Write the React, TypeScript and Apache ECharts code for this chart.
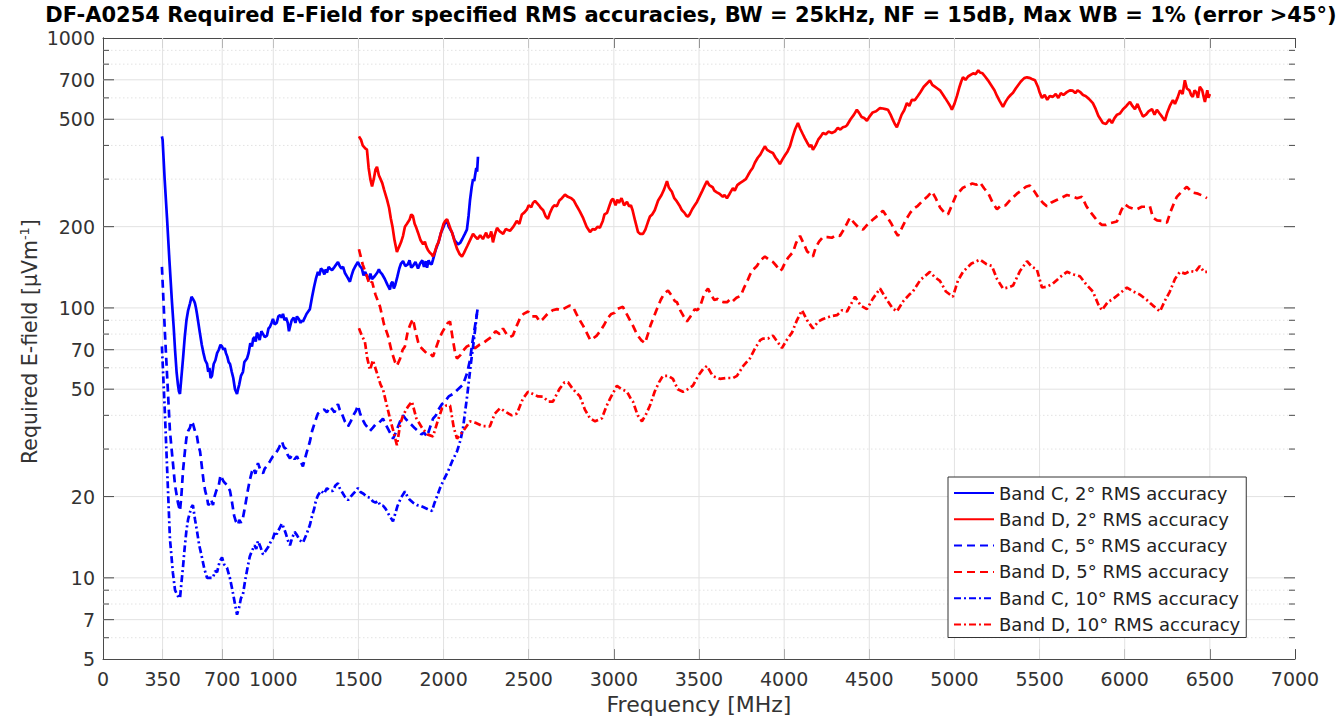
import React, { useEffect, useRef } from 'react';
import * as echarts from 'echarts';

const titleText = 'DF-A0254 Required E-Field for specified RMS accuracies, BW = 25kHz, NF = 15dB, Max WB = 1% (error >45°)';
const xAxisTitle = 'Frequency [MHz]';
const xTicks = [0, 350, 700, 1000, 1500, 2000, 2500, 3000, 3500, 4000, 4500, 5000, 5500, 6000, 6500, 7000];
const yMajorTicks = [5, 7, 10, 20, 50, 70, 100, 200, 500, 700, 1000];
const yMinorTicks = [6, 8, 9, 30, 40, 60, 80, 90, 300, 400, 600, 800, 900];
const seriesNames = [
  'Band C, 2° RMS accuracy',
  'Band D, 2° RMS accuracy',
  'Band C, 5° RMS accuracy',
  'Band D, 5° RMS accuracy',
  'Band C, 10° RMS accuracy',
  'Band D, 10° RMS accuracy',
];

const bandC2 = [
  [346, 432], [350, 420], [362, 300], [376, 215], [390, 150], [405, 105], [415, 85], [423, 70], [432, 58], [440, 52],
  [446, 49], [452, 48], [460, 55], [470, 65], [480, 78], [490, 90], [500, 98], [511, 104], [520, 110], [528, 108],
  [535, 106], [540, 104], [546, 100], [552, 95], [560, 88], [570, 80], [580, 73], [590, 68], [600, 64], [611, 62],
  [618, 58], [625, 60], [632, 55], [640, 56], [650, 62], [660, 64], [670, 68], [680, 70], [690, 73], [699, 72],
  [707, 70], [715, 71], [722, 68], [730, 66], [738, 63], [746, 62], [756, 58], [765, 55], [775, 50], [787, 48],
  [793, 50], [800, 52], [810, 56], [822, 58], [830, 63], [838, 64], [846, 65], [855, 68], [865, 74], [875, 72],
  [882, 77], [890, 78], [897, 75], [904, 81], [912, 79], [920, 76], [930, 82], [940, 80], [950, 78], [963, 79],
  [972, 84], [980, 85], [990, 88], [998, 91], [1008, 87], [1020, 88], [1030, 93], [1040, 94], [1050, 92], [1057, 95],
  [1066, 90], [1075, 92], [1085, 88], [1092, 82], [1098, 85], [1108, 90], [1120, 92], [1130, 88], [1139, 93], [1150, 91],
  [1160, 88], [1168, 90], [1174, 89], [1185, 92], [1195, 95], [1205, 97], [1215, 99], [1228, 110], [1240, 120], [1250, 128],
  [1262, 136], [1270, 132], [1280, 140], [1290, 138], [1300, 133], [1308, 139], [1315, 135], [1325, 142], [1333, 140], [1345, 138],
  [1360, 142], [1370, 145], [1380, 148], [1390, 143], [1400, 140], [1410, 142], [1420, 135], [1435, 130], [1450, 125], [1460, 132],
  [1470, 138], [1480, 142], [1497, 148], [1508, 143], [1520, 140], [1530, 132], [1540, 136], [1550, 131], [1560, 127], [1570, 134],
  [1580, 128], [1595, 131], [1610, 135], [1620, 139], [1627, 136], [1640, 133], [1655, 128], [1670, 122], [1685, 117], [1692, 123],
  [1700, 125], [1708, 118], [1715, 121], [1728, 130], [1740, 140], [1750, 146], [1762, 149], [1775, 143], [1790, 145], [1800, 150],
  [1810, 141], [1820, 143], [1835, 148], [1850, 140], [1862, 146], [1875, 150], [1885, 142], [1895, 149], [1903, 141], [1912, 150],
  [1920, 146], [1930, 145], [1938, 151], [1955, 165], [1970, 175], [1985, 190], [2000, 200], [2010, 208], [2020, 212], [2030, 200],
  [2040, 195], [2050, 190], [2065, 178], [2085, 172], [2097, 174], [2110, 180], [2125, 188], [2137, 195], [2147, 220], [2155, 250],
  [2165, 280], [2173, 300], [2180, 295], [2185, 310], [2192, 330], [2197, 320], [2202, 363],
];

const bandD2 = [
  [1503, 432], [1515, 420], [1525, 400], [1540, 390], [1550, 386], [1560, 330], [1570, 300], [1580, 282], [1590, 300], [1600, 325],
  [1609, 333], [1620, 310], [1630, 300], [1640, 290], [1650, 275], [1660, 262], [1668, 252], [1680, 235], [1690, 215], [1700, 200],
  [1712, 178], [1726, 161], [1738, 168], [1750, 175], [1762, 185], [1773, 200], [1785, 205], [1800, 212], [1810, 222], [1820, 219],
  [1830, 205], [1840, 198], [1850, 190], [1865, 178], [1880, 172], [1890, 176], [1900, 168], [1908, 164], [1920, 160], [1930, 158],
  [1938, 155], [1950, 162], [1960, 170], [1970, 175], [1985, 190], [2000, 205], [2010, 210], [2020, 213], [2030, 205], [2040, 197],
  [2050, 190], [2065, 176], [2080, 165], [2095, 158], [2108, 155], [2120, 160], [2130, 165], [2140, 170], [2155, 178], [2173, 188],
  [2185, 184], [2200, 180], [2215, 186], [2231, 180], [2250, 190], [2260, 182], [2272, 185], [2280, 192], [2290, 175], [2300, 186],
  [2314, 198], [2330, 192], [2350, 188], [2365, 196], [2390, 193], [2410, 200], [2430, 210], [2445, 205], [2460, 222], [2475, 226],
  [2490, 232], [2500, 240], [2515, 236], [2525, 245], [2537, 249], [2550, 244], [2560, 240], [2570, 235], [2585, 230], [2600, 218],
  [2613, 214], [2625, 225], [2640, 236], [2650, 240], [2665, 238], [2680, 250], [2695, 255], [2713, 263], [2730, 258], [2750, 255],
  [2765, 250], [2783, 238], [2800, 228], [2820, 215], [2840, 200], [2860, 191], [2875, 196], [2890, 195], [2905, 200], [2918, 198],
  [2935, 210], [2945, 222], [2960, 225], [2975, 240], [2985, 250], [2995, 254], [3010, 240], [3020, 252], [3030, 245], [3045, 255],
  [3060, 240], [3077, 247], [3090, 238], [3100, 240], [3110, 230], [3125, 210], [3142, 191], [3155, 188], [3171, 188], [3185, 195],
  [3200, 208], [3212, 218], [3225, 222], [3240, 230], [3260, 250], [3280, 262], [3295, 275], [3312, 295], [3322, 280], [3330, 275],
  [3340, 270], [3355, 255], [3370, 248], [3388, 238], [3400, 230], [3415, 225], [3425, 220], [3435, 218], [3445, 222], [3460, 232],
  [3475, 240], [3488, 247], [3505, 260], [3520, 272], [3535, 285], [3547, 295], [3560, 285], [3580, 280], [3590, 272], [3605, 268],
  [3620, 265], [3640, 258], [3650, 262], [3664, 255], [3680, 265], [3699, 278], [3710, 272], [3725, 285], [3740, 290], [3758, 295],
  [3775, 300], [3790, 312], [3800, 320], [3815, 330], [3828, 345], [3845, 360], [3860, 370], [3875, 385], [3887, 397], [3900, 385],
  [3915, 380], [3934, 375], [3950, 360], [3962, 352], [3975, 341], [3990, 355], [4005, 368], [4020, 380], [4034, 397], [4050, 430],
  [4065, 460], [4081, 484], [4095, 460], [4110, 440], [4122, 425], [4134, 411], [4150, 395], [4160, 402], [4169, 385], [4185, 400],
  [4200, 420], [4215, 432], [4228, 445], [4245, 440], [4260, 450], [4280, 445], [4298, 450], [4315, 465], [4330, 458], [4345, 467],
  [4360, 470], [4369, 475], [4390, 500], [4410, 520], [4427, 542], [4440, 528], [4455, 510], [4470, 505], [4486, 494], [4500, 510],
  [4520, 530], [4540, 535], [4563, 550], [4580, 548], [4595, 545], [4610, 542], [4625, 520], [4640, 495], [4650, 480], [4662, 467],
  [4675, 490], [4690, 520], [4705, 540], [4721, 574], [4735, 560], [4750, 590], [4768, 589], [4785, 610], [4800, 630], [4820, 660],
  [4840, 680], [4856, 697], [4870, 670], [4885, 660], [4900, 650], [4915, 640], [4930, 620], [4945, 600], [4960, 580], [4975, 560],
  [4985, 542], [5000, 570], [5015, 610], [5030, 660], [5040, 690], [5050, 715], [5065, 700], [5080, 720], [5095, 730], [5110, 740],
  [5125, 735], [5140, 760], [5150, 745], [5165, 740], [5180, 720], [5197, 697], [5215, 670], [5235, 640], [5250, 610], [5265, 585],
  [5285, 556], [5300, 580], [5315, 600], [5330, 615], [5344, 627], [5360, 650], [5375, 670], [5390, 690], [5410, 710], [5426, 715],
  [5440, 712], [5455, 705], [5473, 697], [5490, 660], [5500, 630], [5514, 600], [5530, 615], [5545, 590], [5560, 610], [5578, 605],
  [5595, 620], [5610, 600], [5625, 625], [5640, 615], [5660, 630], [5678, 640], [5695, 638], [5710, 625], [5723, 640], [5737, 632],
  [5755, 615], [5770, 610], [5790, 595], [5813, 574], [5830, 545], [5845, 515], [5858, 500], [5872, 484], [5890, 480], [5910, 500],
  [5925, 484], [5940, 505], [5955, 520], [5972, 525], [5990, 545], [6010, 560], [6020, 570], [6031, 580], [6045, 560], [6060, 545],
  [6075, 570], [6090, 540], [6107, 512], [6125, 520], [6140, 535], [6160, 545], [6175, 520], [6189, 542], [6205, 525], [6220, 510],
  [6236, 494], [6250, 530], [6265, 560], [6283, 589], [6295, 570], [6310, 600], [6325, 640], [6340, 620], [6353, 697], [6365, 650],
  [6380, 640], [6390, 615], [6400, 605], [6410, 640], [6420, 630], [6430, 600], [6441, 660], [6455, 640], [6465, 600], [6471, 580],
  [6485, 640], [6492, 600], [6500, 620],
];

const bandC5 = [
  [346, 142], [364, 80], [393, 35], [423, 22], [440, 19], [452, 17.7], [460, 20], [470, 25], [480, 29], [490, 33],
  [500, 35], [511, 36], [520, 38], [528, 37.3], [540, 35], [552, 33.4], [560, 31], [570, 29.4], [580, 26], [590, 23],
  [600, 21], [611, 19.8], [618, 18.6], [625, 18.8], [635, 19.5], [646, 18.6], [655, 20], [665, 21], [680, 22], [690, 24],
  [699, 23.4], [707, 22.8], [715, 22.5], [730, 22], [746, 21], [758, 19], [770, 17], [780, 16.2], [793, 15.7], [800, 16.4],
  [810, 16], [822, 16.7], [835, 18.5], [850, 21], [862, 23], [875, 24.8], [885, 25.5], [895, 24.3], [910, 26.6], [925, 25],
  [940, 24.4], [950, 25.4], [963, 26], [980, 27], [998, 28.2], [1015, 29], [1030, 30], [1040, 31], [1051, 32], [1062, 30.5],
  [1075, 30], [1085, 28.5], [1098, 27.7], [1110, 28.5], [1125, 27.5], [1139, 28.2], [1150, 27.2], [1160, 27], [1174, 25.9], [1195, 29],
  [1215, 32], [1228, 35], [1240, 37], [1252, 39], [1262, 40.6], [1280, 41.5], [1300, 42], [1315, 41], [1333, 43], [1348, 42],
  [1360, 41], [1370, 43], [1380, 44], [1390, 42], [1400, 41], [1420, 38], [1439, 36.4], [1455, 38], [1470, 40], [1485, 41.5],
  [1497, 43.5], [1508, 41], [1520, 39], [1540, 37], [1555, 36], [1568, 35], [1585, 36], [1600, 37], [1620, 37.5], [1644, 38.9],
  [1660, 37], [1680, 35], [1692, 34], [1703, 32.8], [1715, 34], [1730, 36], [1745, 38], [1762, 40], [1775, 39], [1790, 38],
  [1810, 37], [1832, 35.8], [1850, 35], [1870, 34], [1885, 34.5], [1903, 33.4], [1920, 36], [1938, 38.9], [1955, 40], [1970, 42],
  [1990, 44], [2008, 45], [2030, 47], [2055, 48], [2085, 50], [2114, 52], [2137, 57], [2155, 64], [2170, 75], [2185, 86],
  [2202, 101],
];

const bandD5 = [
  [1503, 165], [1525, 145], [1550, 131], [1565, 122], [1580, 125], [1600, 112], [1627, 101], [1650, 87], [1673, 79], [1695, 69],
  [1715, 63], [1726, 61], [1745, 65], [1760, 70], [1773, 72], [1790, 82], [1805, 87], [1820, 91], [1835, 82], [1850, 75],
  [1861, 72], [1880, 70], [1900, 68], [1920, 68], [1938, 66], [1955, 71], [1975, 77], [1991, 81], [2010, 85], [2025, 88],
  [2038, 89], [2055, 76], [2070, 67], [2079, 65], [2100, 67], [2120, 70], [2137, 72], [2160, 73], [2185, 71], [2210, 73],
  [2231, 74], [2255, 76], [2280, 78], [2305, 82], [2330, 80], [2349, 84], [2370, 80], [2390, 78], [2407, 79], [2430, 86],
  [2450, 92], [2470, 95], [2496, 97], [2520, 93], [2545, 93], [2565, 89], [2584, 91], [2610, 95], [2640, 98], [2666, 99],
  [2690, 98], [2715, 100], [2740, 102], [2760, 101], [2780, 95], [2800, 90], [2819, 86], [2840, 81], [2862, 76], [2877, 77],
  [2900, 79], [2925, 83], [2945, 87], [2960, 91], [2985, 95], [3005, 96], [3018, 99], [3035, 100], [3053, 101], [3075, 95],
  [3095, 90], [3112, 86], [3135, 80], [3160, 76], [3183, 74], [3200, 80], [3215, 86], [3230, 91], [3250, 98], [3275, 107],
  [3295, 113], [3318, 116], [3340, 111], [3358, 106], [3371, 105], [3390, 98], [3410, 93], [3429, 89], [3450, 93], [3475, 99],
  [3490, 98], [3506, 101], [3525, 110], [3540, 115], [3553, 118], [3570, 112], [3590, 107], [3610, 108], [3623, 106], [3645, 105],
  [3665, 105], [3685, 108], [3699, 106], [3720, 109], [3745, 111], [3765, 119], [3782, 125], [3800, 133], [3820, 139], [3840, 143],
  [3860, 150], [3887, 155], [3910, 151], [3934, 148], [3955, 143], [3975, 137], [3987, 139], [4005, 147], [4025, 154], [4052, 161],
  [4070, 174], [4093, 185], [4115, 173], [4135, 162], [4155, 158], [4169, 155], [4185, 167], [4205, 176], [4228, 183], [4255, 183],
  [4280, 182], [4305, 186], [4328, 185], [4350, 195], [4370, 206], [4386, 216], [4410, 207], [4435, 199], [4463, 195], [4490, 204],
  [4520, 212], [4550, 220], [4580, 229], [4605, 217], [4630, 205], [4650, 193], [4668, 185], [4690, 197], [4715, 212], [4740, 225],
  [4756, 232], [4785, 239], [4815, 250], [4845, 260], [4868, 270], [4890, 255], [4915, 236], [4940, 226], [4962, 222], [4985, 240],
  [5010, 262], [5030, 270], [5050, 279], [5075, 283], [5105, 289], [5130, 286], [5150, 292], [5175, 277], [5200, 265], [5225, 245],
  [5250, 232], [5275, 240], [5300, 240], [5330, 252], [5367, 265], [5395, 273], [5420, 281], [5443, 284], [5470, 270], [5495, 255],
  [5520, 245], [5543, 238], [5570, 246], [5600, 251], [5630, 256], [5661, 262], [5690, 259], [5720, 255], [5749, 258], [5775, 238],
  [5800, 226], [5820, 218], [5845, 208], [5866, 203], [5890, 203], [5915, 206], [5954, 209], [5980, 230], [6001, 242], [6025, 236],
  [6050, 233], [6072, 232], [6100, 237], [6130, 237], [6148, 238], [6166, 216], [6190, 211], [6220, 210], [6248, 207], [6270, 228],
  [6290, 245], [6306, 258], [6330, 268], [6365, 281], [6395, 268], [6430, 265], [6460, 260], [6483, 255],
];

const bandC10 = [
  [346, 72], [364, 40], [393, 14], [410, 10.5], [423, 9], [438, 8.6], [452, 8.4], [460, 9.5], [470, 11], [480, 13],
  [490, 15], [500, 16.5], [511, 17.5], [520, 18.3], [528, 18.6], [540, 16.5], [552, 14.9], [565, 13.2], [580, 12], [595, 10.8],
  [611, 10], [628, 10], [646, 10], [658, 10.6], [670, 10.5], [685, 11.5], [699, 11.9], [712, 11.2], [728, 10.9], [745, 10],
  [760, 9], [775, 8], [787, 7.3], [800, 7.8], [810, 8.4], [822, 8.7], [835, 9.8], [850, 11], [862, 12], [875, 12.6],
  [890, 13.2], [900, 12.8], [910, 13.7], [925, 13], [940, 12.2], [955, 12.6], [970, 13], [985, 13.6], [998, 14], [1010, 14.8],
  [1020, 14.5], [1035, 15.2], [1051, 15.9], [1062, 15.3], [1075, 14.5], [1085, 13.8], [1098, 13.2], [1110, 14], [1125, 14.8], [1139, 14.4],
  [1155, 13.8], [1174, 13.5], [1195, 14.5], [1215, 15.7], [1228, 17], [1240, 18], [1250, 19.3], [1262, 20.2], [1280, 21], [1298, 20.5],
  [1315, 21.5], [1332, 21], [1350, 21], [1365, 22], [1380, 22.4], [1390, 21.5], [1400, 21], [1420, 20], [1439, 19.4], [1455, 20],
  [1470, 20.5], [1485, 21], [1497, 21.5], [1512, 20.8], [1530, 20.5], [1548, 20], [1568, 19.8], [1585, 19.2], [1600, 19], [1615, 19.3],
  [1627, 18.6], [1645, 18.5], [1660, 18], [1682, 17], [1703, 16.2], [1715, 17.2], [1730, 18.5], [1750, 19.8], [1773, 20.9], [1788, 20],
  [1800, 19.5], [1820, 19], [1844, 18.6], [1862, 18.5], [1880, 18.3], [1905, 18], [1932, 17.7], [1945, 18.8], [1961, 20], [1979, 21.5],
  [2000, 23], [2026, 24.8], [2050, 27], [2079, 29.4], [2100, 32.5], [2114, 35.8], [2126, 41], [2140, 48], [2160, 62], [2178, 76],
  [2196, 95],
];

const bandD10 = [
  [1503, 84], [1520, 79], [1538, 75], [1552, 65], [1568, 59], [1585, 64], [1610, 57], [1630, 52], [1644, 50], [1665, 44],
  [1685, 39], [1705, 35], [1726, 31], [1745, 37], [1762, 40], [1790, 43], [1814, 45], [1840, 39], [1873, 36], [1905, 34],
  [1938, 33.4], [1965, 38], [1991, 42.5], [2015, 43.5], [2038, 43.5], [2060, 36], [2079, 32.8], [2115, 35], [2155, 38], [2190, 37.5],
  [2230, 36.5], [2272, 36.4], [2300, 40.5], [2331, 42.5], [2370, 41], [2400, 40], [2431, 40.6], [2465, 46], [2496, 48.9], [2525, 48],
  [2555, 47], [2584, 46.9], [2615, 45], [2642, 45], [2680, 50], [2710, 53], [2731, 53], [2760, 50], [2801, 47], [2830, 42],
  [2860, 39], [2890, 38], [2930, 39], [2955, 43], [2977, 46], [3000, 49], [3018, 51.5], [3045, 50], [3077, 49], [3100, 46],
  [3112, 45], [3140, 40], [3165, 38], [3190, 40.5], [3212, 43.5], [3240, 49], [3265, 53], [3288, 56], [3320, 56], [3347, 54.6],
  [3375, 50], [3406, 48.9], [3435, 50], [3464, 51.5], [3495, 56], [3525, 59.5], [3547, 61], [3580, 56], [3623, 54.6], [3660, 55],
  [3700, 55], [3723, 56], [3760, 61], [3799, 65], [3830, 71], [3860, 76], [3875, 77], [3905, 77], [3934, 79], [3960, 75],
  [3987, 71], [4015, 76], [4046, 81], [4075, 90], [4105, 98], [4135, 90], [4169, 84], [4200, 89], [4228, 91], [4270, 93],
  [4310, 94], [4340, 98], [4369, 97], [4395, 104], [4416, 110], [4450, 102], [4486, 99], [4520, 108], [4563, 118], [4600, 108],
  [4635, 100], [4662, 97], [4700, 106], [4735, 112], [4756, 115], [4800, 127], [4856, 136], [4885, 130], [4915, 126], [4950, 115],
  [4991, 110], [5020, 126], [5050, 136], [5100, 146], [5150, 151], [5190, 145], [5220, 143], [5250, 128], [5285, 118], [5315, 119],
  [5344, 121], [5385, 137], [5426, 149], [5455, 142], [5484, 139], [5514, 119], [5545, 120], [5578, 123], [5620, 130], [5661, 136],
  [5700, 133], [5737, 131], [5775, 122], [5813, 115], [5845, 103], [5866, 98], [5900, 105], [5931, 108], [5970, 113], [6013, 119],
  [6050, 115], [6089, 112], [6130, 107], [6166, 102], [6207, 97], [6235, 106], [6265, 115], [6295, 128], [6324, 136], [6355, 134],
  [6383, 137], [6415, 136], [6441, 143], [6465, 136], [6483, 136],
];

const FONT = '"DejaVu Sans", Arial, sans-serif';
const BLUE = '#0000ff';
const RED = '#ff0000';
const AXIS = '#4a4a4a';
const TEXT = '#333333';
const DASHED = [8, 5];
const DASHDOT = [7, 3, 2, 3];

export default function App() {
  const ref = useRef<HTMLDivElement>(null);

  useEffect(() => {
    if (!ref.current) return;
    const chart = echarts.init(ref.current, undefined, { renderer: 'svg' });

    const yRows = [
      ...yMajorTicks.map((v) => [0, v, 1]),
      ...yMinorTicks.map((v) => [0, v, 0]),
    ];
    const xRows = xTicks.map((v) => [v, 5]);

    const lineSeries = (name: string, data: number[][], color: string, type: any) => ({
      name,
      type: 'line',
      data,
      showSymbol: false,
      symbol: 'none',
      z: 3,
      lineStyle: { color, width: 2.7, type },
      itemStyle: { color },
    });

    const option: any = {
      animation: false,
      backgroundColor: '#ffffff',
      textStyle: { fontFamily: FONT },
      graphic: [
        {
          type: 'text',
          x: 691,
          y: 15,
          style: {
            text: titleText,
            fontFamily: FONT,
            fontWeight: 'bold',
            fontSize: 21,
            fill: '#000',
            align: 'center',
            verticalAlign: 'middle',
          },
        },
      ],
      grid: { left: 103, right: 43, top: 38, bottom: 59, containLabel: false },
      legend: {
        orient: 'vertical',
        left: 948,
        top: 477,
        data: seriesNames,
        itemWidth: 40,
        itemHeight: 14,
        itemGap: 8.3,
        padding: [7, 6, 4, 5],
        borderColor: '#333',
        borderWidth: 1,
        borderRadius: 0,
        backgroundColor: '#fff',
        itemStyle: { opacity: 0, borderWidth: 0 },
        textStyle: { fontFamily: FONT, fontSize: 18, color: '#222', lineHeight: 18, padding: [0, 0, 0, 0] },
        selectedMode: false,
      },
      xAxis: [
        {
          type: 'value',
          min: 0,
          max: 7000,
          interval: 500,
          position: 'bottom',
          name: xAxisTitle,
          nameLocation: 'middle',
          nameGap: 33,
          nameTextStyle: { fontFamily: FONT, fontSize: 22, color: TEXT },
          axisLine: { show: true, lineStyle: { color: AXIS, width: 1 } },
          axisTick: { show: true, inside: true, length: 10, customValues: xTicks, lineStyle: { color: AXIS } },
          axisLabel: {
            show: true,
            customValues: xTicks,
            margin: 10,
            fontFamily: FONT,
            fontSize: 19,
            color: TEXT,
            formatter: (v: number) => String(v),
          },
          splitLine: { show: false },
        },
        {
          type: 'value',
          min: 0,
          max: 7000,
          interval: 500,
          position: 'top',
          axisLine: { show: true, lineStyle: { color: AXIS, width: 1 } },
          axisTick: { show: true, inside: true, length: 10, customValues: xTicks, lineStyle: { color: AXIS } },
          axisLabel: { show: false },
          splitLine: { show: false },
        },
      ],
      yAxis: [
        {
          type: 'log',
          logBase: 10,
          min: 5,
          max: 1000,
          position: 'left',
          name: 'Required E-field [μVm{sup|-1}]',
          nameLocation: 'middle',
          nameGap: 62,
          nameRotate: 90,
          nameTextStyle: {
            fontFamily: FONT,
            fontSize: 20.5,
            color: TEXT,
            padding: [0, 0, 0, 14],
            rich: { sup: { fontFamily: FONT, fontSize: 13, color: TEXT, verticalAlign: 'top', padding: [0, 0, 10, 0] } },
          },
          axisLine: { show: true, lineStyle: { color: AXIS, width: 1 } },
          axisTick: { show: false },
          axisLabel: { show: false },
          splitLine: { show: false },
          minorSplitLine: { show: false },
        },
        {
          type: 'log',
          logBase: 10,
          min: 5,
          max: 1000,
          position: 'right',
          axisLine: { show: true, lineStyle: { color: AXIS, width: 1 } },
          axisTick: { show: false },
          axisLabel: { show: false },
          splitLine: { show: false },
        },
      ],
      series: [
        {
          type: 'custom',
          name: 'ygrid',
          silent: true,
          z: 1,
          xAxisIndex: 0,
          yAxisIndex: 0,
          encode: { x: 0, y: 1 },
          data: yRows,
          renderItem: (params: any, api: any) => {
            const v = api.value(1);
            const major = api.value(2) === 1;
            const p0 = api.coord([0, v]);
            const p1 = api.coord([7000, v]);
            const len = major ? 11 : 6;
            const children: any[] = [];
            if (v > 5 && v < 1000) {
              children.push({
                type: 'line',
                shape: { x1: p0[0], y1: p0[1], x2: p1[0], y2: p1[1] },
                style: major
                  ? { stroke: '#e2e2e2', lineWidth: 1 }
                  : { stroke: '#e2e2e2', lineWidth: 1, lineDash: [1.5, 2.5] },
              });
              children.push({
                type: 'line',
                shape: { x1: p0[0], y1: p0[1], x2: p0[0] + len, y2: p0[1] },
                style: { stroke: AXIS, lineWidth: 1 },
              });
              children.push({
                type: 'line',
                shape: { x1: p1[0] - len, y1: p1[1], x2: p1[0], y2: p1[1] },
                style: { stroke: AXIS, lineWidth: 1 },
              });
            }
            if (major) {
              children.push({
                type: 'text',
                x: p0[0] - 8,
                y: p0[1],
                style: {
                  text: String(v),
                  fontFamily: FONT,
                  fontSize: 19,
                  fill: TEXT,
                  align: 'right',
                  verticalAlign: 'middle',
                },
              });
            }
            return { type: 'group', children };
          },
        },
        {
          type: 'custom',
          name: 'xgrid',
          silent: true,
          z: 1,
          xAxisIndex: 0,
          yAxisIndex: 0,
          encode: { x: 0, y: 1 },
          data: xRows,
          renderItem: (params: any, api: any) => {
            const v = api.value(0);
            if (v <= 0 || v >= 7000) return { type: 'group', children: [] };
            const p0 = api.coord([v, 5]);
            const p1 = api.coord([v, 1000]);
            return {
              type: 'line',
              shape: { x1: p0[0], y1: p0[1], x2: p1[0], y2: p1[1] },
              style: { stroke: '#e2e2e2', lineWidth: 1 },
            };
          },
        },
        lineSeries(seriesNames[0], bandC2, BLUE, 'solid'),
        lineSeries(seriesNames[1], bandD2, RED, 'solid'),
        lineSeries(seriesNames[2], bandC5, BLUE, DASHED),
        lineSeries(seriesNames[3], bandD5, RED, DASHED),
        lineSeries(seriesNames[4], bandC10, BLUE, DASHDOT),
        lineSeries(seriesNames[5], bandD10, RED, DASHDOT),
      ],
    };

    chart.setOption(option);
    return () => chart.dispose();
  }, []);

  return (
    <div
      ref={ref}
      style={{ position: 'absolute', left: 0, top: 0, width: 1338, height: 720, background: '#fff' }}
    />
  );
}
